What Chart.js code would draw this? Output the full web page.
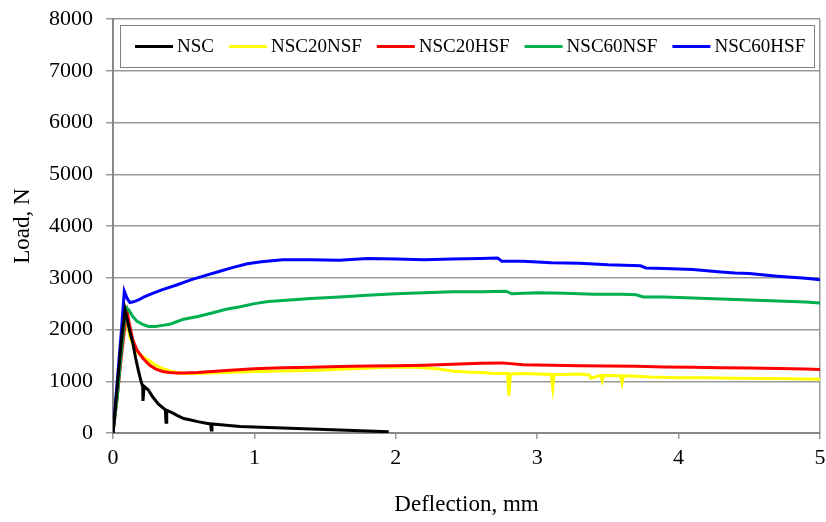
<!DOCTYPE html>
<html>
<head>
<meta charset="utf-8">
<script src="https://cdn.jsdelivr.net/npm/chart.js@4"></script>
<style>
  html, body { margin: 0; padding: 0; background: #fff; }
  #load_chart { display: block; }
</style>
</head>
<body>
<canvas id="load_chart" width="826" height="522"></canvas>
<script>
// deflection (mm) / load (N)
const nsc_x = [0, 0.03, 0.06, 0.085, 0.1, 0.12, 0.14, 0.16, 0.18, 0.2, 0.21, 0.212, 0.22, 0.25, 0.28, 0.32, 0.37, 0.375, 0.38, 0.42, 0.46, 0.5, 0.55, 0.6, 0.66, 0.69, 0.695, 0.7, 0.8, 0.9, 1.0, 1.1, 1.2, 1.3, 1.4, 1.5, 1.6, 1.7, 1.8, 1.9, 1.95];
const nsc_y = [0, 900, 1800, 2380, 2200, 1950, 1740, 1450, 1200, 980, 900, 620, 900, 830, 700, 560, 450, 210, 440, 390, 330, 280, 250, 220, 190, 175, 60, 175, 150, 125, 115, 105, 95, 85, 75, 68, 58, 48, 40, 30, 25];

const nsc20nsf_x = [0, 0.03, 0.06, 0.085, 0.1, 0.12, 0.15, 0.18, 0.22, 0.26, 0.3, 0.35, 0.4, 0.45, 0.5, 0.6, 0.7, 0.8, 0.9, 1.0, 1.2, 1.4, 1.6, 1.8, 1.9, 2.0, 2.1, 2.2, 2.3, 2.4, 2.5, 2.6, 2.7, 2.79, 2.8, 2.81, 2.9, 3.0, 3.1, 3.11, 3.12, 3.2, 3.3, 3.37, 3.38, 3.45, 3.46, 3.47, 3.5, 3.59, 3.6, 3.61, 3.7, 3.8, 4.0, 4.2, 4.4, 4.6, 4.8, 5.0];
const nsc20nsf_y = [0, 800, 1700, 2250, 2120, 1850, 1650, 1540, 1460, 1390, 1310, 1250, 1200, 1170, 1150, 1150, 1160, 1170, 1180, 1190, 1200, 1210, 1230, 1250, 1265, 1270, 1275, 1260, 1235, 1200, 1180, 1170, 1150, 1150, 720, 1140, 1150, 1140, 1130, 880, 1130, 1130, 1140, 1120, 1060, 1115, 1010, 1110, 1110, 1105, 970, 1105, 1095, 1080, 1070, 1070, 1060, 1055, 1050, 1040];

const nsc20hsf_x = [0, 0.03, 0.06, 0.09, 0.1, 0.12, 0.14, 0.17, 0.21, 0.26, 0.3, 0.35, 0.4, 0.45, 0.5, 0.6, 0.7, 0.8, 1.0, 1.2, 1.4, 1.6, 1.8, 2.0, 2.2, 2.4, 2.6, 2.75, 2.9, 3.1, 3.3, 3.5, 3.7, 3.9, 4.1, 4.3, 4.5, 4.7, 4.9, 5.0];
const nsc20hsf_y = [0, 700, 1500, 2200, 2340, 2050, 1800, 1600, 1450, 1310, 1240, 1190, 1170, 1160, 1160, 1170, 1190, 1210, 1240, 1260, 1270, 1285, 1295, 1300, 1310, 1330, 1350, 1355, 1320, 1310, 1300, 1295, 1290, 1275, 1270, 1260, 1255, 1245, 1235, 1225];

const nsc60nsf_x = [0, 0.03, 0.06, 0.09, 0.11, 0.14, 0.17, 0.21, 0.25, 0.3, 0.35, 0.4, 0.45, 0.5, 0.6, 0.7, 0.8, 0.9, 1.0, 1.1, 1.2, 1.4, 1.6, 1.8, 2.0, 2.2, 2.4, 2.6, 2.78, 2.82, 3.0, 3.2, 3.4, 3.6, 3.7, 3.75, 3.9, 4.1, 4.3, 4.5, 4.7, 4.9, 5.0];
const nsc60nsf_y = [0, 700, 1600, 2430, 2380, 2250, 2160, 2100, 2060, 2060, 2080, 2100, 2150, 2200, 2250, 2320, 2390, 2440, 2500, 2540, 2560, 2600, 2630, 2660, 2690, 2710, 2730, 2730, 2740, 2690, 2710, 2700, 2680, 2680, 2670, 2630, 2630, 2610, 2590, 2570, 2550, 2530, 2510];

const nsc60hsf_x = [0, 0.03, 0.06, 0.08, 0.1, 0.12, 0.15, 0.18, 0.22, 0.28, 0.35, 0.45, 0.55, 0.65, 0.75, 0.85, 0.95, 1.05, 1.2, 1.4, 1.6, 1.8, 2.0, 2.2, 2.4, 2.6, 2.72, 2.75, 2.9, 3.1, 3.3, 3.5, 3.73, 3.77, 3.9, 4.1, 4.3, 4.4, 4.5, 4.7, 4.9, 5.0];
const nsc60hsf_y = [0, 1000, 2000, 2740, 2600, 2520, 2540, 2570, 2630, 2700, 2770, 2860, 2960, 3040, 3120, 3200, 3270, 3310, 3350, 3350, 3340, 3370, 3360, 3350, 3360, 3370, 3380, 3320, 3320, 3290, 3280, 3250, 3230, 3190, 3180, 3160, 3110, 3090, 3080, 3030, 2990, 2960];

const x_ticks = [0, 1, 2, 3, 4, 5];
const y_ticks = [0, 1000, 2000, 3000, 4000, 5000, 6000, 7000, 8000];

const serif = "'Liberation Serif', 'Times New Roman', serif";

function make_points(xs, ys) {
    return xs.map((x, i) => ({x: x, y: ys[i]}));
}

function make_dataset(label, xs, ys, color, order) {
    return {
        label: label,
        data: make_points(xs, ys),
        borderColor: color,
        backgroundColor: color,
        borderWidth: 3,
        pointRadius: 0,
        tension: 0,
        order: order
    };
}

// legend box drawn inside the plot, like the original
const box_legend = {
    id: 'box_legend',
    afterDraw(chart) {
        const ctx = chart.ctx;
        ctx.save();
        ctx.fillStyle = '#fff';
        ctx.fillRect(120, 25, 694, 42);
        ctx.strokeStyle = '#808080';
        ctx.lineWidth = 1;
        ctx.strokeRect(120.5, 25.5, 694, 42);
        ctx.font = `19px ${serif}`;
        ctx.textBaseline = 'middle';
        let x = 135;
        chart.data.datasets.forEach(ds => {
            ctx.strokeStyle = ds.borderColor;
            ctx.lineWidth = 3;
            ctx.beginPath();
            ctx.moveTo(x, 46.5);
            ctx.lineTo(x + 38, 46.5);
            ctx.stroke();
            ctx.fillStyle = '#000';
            ctx.fillText(ds.label, x + 42, 47);
            x += 42 + ctx.measureText(ds.label).width + 15;
        });
        ctx.restore();
    }
};

const chart = document.getElementById('load_chart').getContext('2d');
new Chart(chart, {
    type: 'line',
    data: {
        datasets: [
            make_dataset('NSC', nsc_x, nsc_y, '#000000', 0),
            make_dataset('NSC20NSF', nsc20nsf_x, nsc20nsf_y, '#ffff00', 4),
            make_dataset('NSC20HSF', nsc20hsf_x, nsc20hsf_y, '#ff0000', 3),
            make_dataset('NSC60NSF', nsc60nsf_x, nsc60nsf_y, '#00b050', 2),
            make_dataset('NSC60HSF', nsc60hsf_x, nsc60hsf_y, '#0000ff', 1)
        ]
    },
    options: {
        responsive: false,
        animation: false,
        layout: {padding: {top: 19, right: 6, left: 0, bottom: 0}},
        plugins: {
            legend: {display: false},
            tooltip: {enabled: false}
        },
        scales: {
            x: {
                type: 'linear',
                min: 0,
                max: 5,
                afterBuildTicks: (axis) => { axis.ticks = x_ticks.map(v => ({value: v})); },
                afterFit: (axis) => {
                    axis.height = 89;
                    axis.paddingLeft = 0;
                    axis.paddingRight = 0;
                },
                ticks: {
                    color: '#000',
                    font: {family: serif, size: 22},
                    padding: 6,
                    maxRotation: 0,
                    callback: (v) => String(v)
                },
                grid: {
                    color: (ctx) => (ctx.tick && ctx.tick.value === 5) ? '#999' : 'rgba(0,0,0,0)',
                    tickColor: '#999',
                    lineWidth: 1.5,
                    tickLength: 6
                },
                border: {color: '#888', width: 2},
                title: {
                    display: true,
                    text: 'Deflection, mm',
                    color: '#000',
                    font: {family: serif, size: 23},
                    padding: {top: 0, bottom: 3}
                }
            },
            y: {
                min: 0,
                max: 8000,
                afterBuildTicks: (axis) => { axis.ticks = y_ticks.map(v => ({value: v})); },
                afterFit: (axis) => {
                    axis.width = 113;
                    axis.paddingTop = 0;
                    axis.paddingBottom = 0;
                },
                ticks: {
                    color: '#000',
                    font: {family: serif, size: 22},
                    padding: 13,
                    callback: (v) => String(v)
                },
                grid: {
                    color: '#999',
                    tickColor: '#999',
                    lineWidth: 1.5,
                    tickLength: 7
                },
                border: {color: '#888', width: 2},
                title: {
                    display: true,
                    text: 'Load, N',
                    color: '#000',
                    font: {family: serif, size: 23},
                    padding: {top: 9, bottom: 0}
                }
            }
        }
    },
    plugins: [box_legend]
});
</script>
</body>
</html>
